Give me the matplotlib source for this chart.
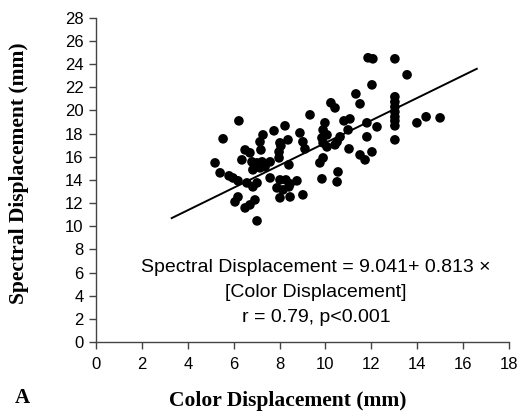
import matplotlib
matplotlib.use("Agg")
import matplotlib.pyplot as plt

# color displacement (mm)
color_disp = [
    6.23, 5.54, 5.19, 5.41, 5.80, 5.97, 6.19, 6.36, 6.50, 6.71,
    7.19, 6.80, 7.02, 7.24, 7.59, 6.84, 7.15, 7.37, 7.28, 7.15,
    7.76, 8.24, 8.02, 8.37, 8.89, 9.02, 9.33, 7.98, 7.98, 7.59,
    6.58, 6.84, 7.02, 8.02, 8.28, 8.46, 8.76, 7.89, 8.15, 8.41,
    8.02, 8.46, 6.19, 6.06, 6.93, 6.71, 6.50, 7.02, 11.86, 12.07,
    13.03, 13.56, 12.03, 11.33, 13.03, 13.03, 13.03, 13.03, 13.03, 13.03,
    13.03, 13.03, 11.51, 10.24, 10.42, 13.99, 14.39, 15.00, 11.81, 12.25,
    10.81, 11.07, 10.99, 9.98, 9.90, 10.07, 9.85, 9.90, 10.07, 9.11,
    10.64, 10.51, 10.42, 11.81, 11.03, 12.03, 11.51, 11.73, 9.90, 9.76,
    10.55, 10.51, 9.85, 9.02, 8.41, 8.06,
]
# spectral displacement (mm)
spectral_disp = [
    19.10, 17.55, 15.47, 14.61, 14.35, 14.17, 13.92, 15.73, 16.59, 16.34,
    16.59, 15.56, 15.47, 15.56, 15.56, 14.87, 15.04, 15.13, 17.89, 17.29,
    18.24, 18.67, 17.20, 17.46, 18.06, 17.29, 19.62, 16.42, 15.90, 14.17,
    13.74, 13.40, 13.74, 14.00, 14.00, 13.66, 13.92, 13.31, 13.14, 13.40,
    12.45, 12.53, 12.53, 12.10, 12.27, 11.84, 11.58, 10.46, 24.55, 24.46,
    24.46, 23.08, 22.21, 21.43, 21.18, 20.74, 20.31, 19.88, 19.45, 19.10,
    18.67, 17.46, 20.57, 20.66, 20.22, 18.93, 19.45, 19.36, 18.93, 18.58,
    19.10, 19.27, 18.32, 18.93, 18.32, 17.89, 17.63, 17.20, 16.85, 16.68,
    17.72, 17.29, 17.03, 17.72, 16.68, 16.42, 16.16, 15.73, 15.90, 15.47,
    14.69, 13.83, 14.09, 12.71, 15.30, 16.94,
]

# regression line as drawn in the figure
fit_x = [3.3, 16.6]
fit_y = [10.7, 23.6]

x_ticks = list(range(0, 19, 2))
y_ticks = list(range(0, 29, 2))

sans = ["Liberation Sans", "DejaVu Sans"]
serif = ["Liberation Serif", "DejaVu Serif"]

fig = plt.figure(figsize=(5.26, 4.15), dpi=100)
ax = fig.add_axes([0.1825, 0.176, 0.785, 0.781])

ax.scatter(color_disp, spectral_disp, s=48, color="black", edgecolors="none", zorder=3)
ax.plot(fit_x, fit_y, color="black", linewidth=1.4, zorder=2)

ax.set_xlim(0, 18)
ax.set_ylim(0, 28)
ax.set_xticks(x_ticks)
ax.set_yticks(y_ticks)
ax.set_xticklabels([str(t) for t in x_ticks], family=sans, fontsize=12)
ax.set_yticklabels([str(t) for t in y_ticks], family=sans, fontsize=12)

for side in ["top", "right"]:
    ax.spines[side].set_visible(False)
for side in ["left", "bottom"]:
    ax.spines[side].set_color("#444444")
    ax.spines[side].set_linewidth(1.0)
ax.tick_params(axis="both", direction="out", length=5, width=1.0, color="#444444")
ax.tick_params(axis="y", pad=4)
ax.tick_params(axis="x", pad=6)

ax.set_xlabel("Color Displacement (mm)", family=serif, fontweight="bold", fontsize=15.5)
ax.set_ylabel("Spectral Displacement (mm)", family=serif, fontweight="bold", fontsize=15.5)
ax.xaxis.set_label_coords(0.464, -0.152)
ax.yaxis.set_label_coords(-0.162, 0.52)

ax.text(9.6, 4.25,
        "Spectral Displacement = 9.041+ 0.813 \u00d7\n[Color Displacement]\nr = 0.79, p<0.001",
        family=sans, fontsize=14, ha="center", va="center", multialignment="center",
        linespacing=1.6)

fig.text(0.042, 0.041, "A", family=serif, fontweight="bold", fontsize=15, ha="center", va="center")

fig.savefig("out.png", dpi=100)
